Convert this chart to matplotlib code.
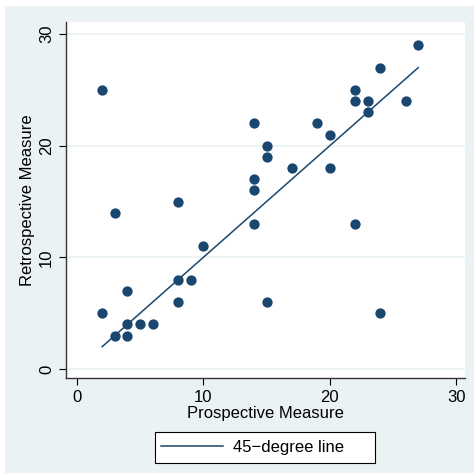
import matplotlib.pyplot as plt
from matplotlib.patches import Rectangle
import numpy as np

# prospective vs retrospective measures
prospective = [2, 2, 3, 3, 4, 4, 4, 5, 6, 8, 8, 8, 9, 10, 14, 14, 14, 14, 15, 15, 15,
               17, 19, 20, 20, 22, 22, 22, 23, 23, 24, 24, 26, 27]
retrospective = [25, 5, 14, 3, 7, 4, 3, 4, 4, 15, 8, 6, 8, 11, 22, 17, 16, 13, 20, 19, 6,
                 18, 22, 21, 18, 25, 24, 13, 24, 23, 27, 5, 24, 29]
line_x = [2, 27]
ticks = [0, 10, 20, 30]

navy = '#1a476f'
bg = '#eaf2f3'

plt.rcParams['font.family'] = ['Liberation Sans', 'DejaVu Sans']

fig = plt.figure(figsize=(4.74, 4.73), dpi=100, facecolor='white')
# Stata-ish outer region, with a thin white strip top and left
fig.patches.append(Rectangle((5 / 474, 0), 1, 1 - 6 / 473, transform=fig.transFigure,
                             facecolor=bg, edgecolor='none', zorder=-10))

ax = fig.add_axes([0.139, 0.201, 0.842, 0.752])
ax.set_zorder(1)
ax.set_facecolor('white')

ax.scatter(prospective, retrospective, s=55, color=navy, zorder=3, linewidths=0)
ax.plot(line_x, line_x, color=navy, lw=1.1, label='45\u2212degree line', zorder=2)

ax.set_xlim(-0.87, 30.7)
ax.set_ylim(-0.8, 31.07)
ax.set_xticks(ticks)
ax.set_yticks(ticks)
ax.set_yticklabels(ticks, rotation=90, va='center')
ax.tick_params(direction='out', length=5, labelsize=12, colors='black')
for y in ticks:
    ax.axhline(y, color=bg, lw=1.2, zorder=1)

for s in ['top', 'right']:
    ax.spines[s].set_visible(False)
for s in ['left', 'bottom']:
    ax.spines[s].set_color('#333333')
    ax.spines[s].set_linewidth(1.0)

ax.set_xlabel('Prospective Measure', fontsize=12, labelpad=1)
ax.set_ylabel('Retrospective Measure', fontsize=12, labelpad=3)

# legend box drawn by hand so it can be wider than its contents, like Stata's
fig.patches.append(Rectangle((155 / 474, 1 - 463 / 473), 220 / 474, 31 / 473,
                             transform=fig.transFigure, facecolor='white',
                             edgecolor='black', lw=0.8, zorder=2))
leg = fig.legend(loc='center left', bbox_to_anchor=(161 / 474, 1 - 447.5 / 473),
                 fontsize=12, frameon=False, handlelength=3.7, handletextpad=0.6,
                 borderpad=0, borderaxespad=0)
leg.set_zorder(3)

fig.savefig('out.png', dpi=100, facecolor='white')
